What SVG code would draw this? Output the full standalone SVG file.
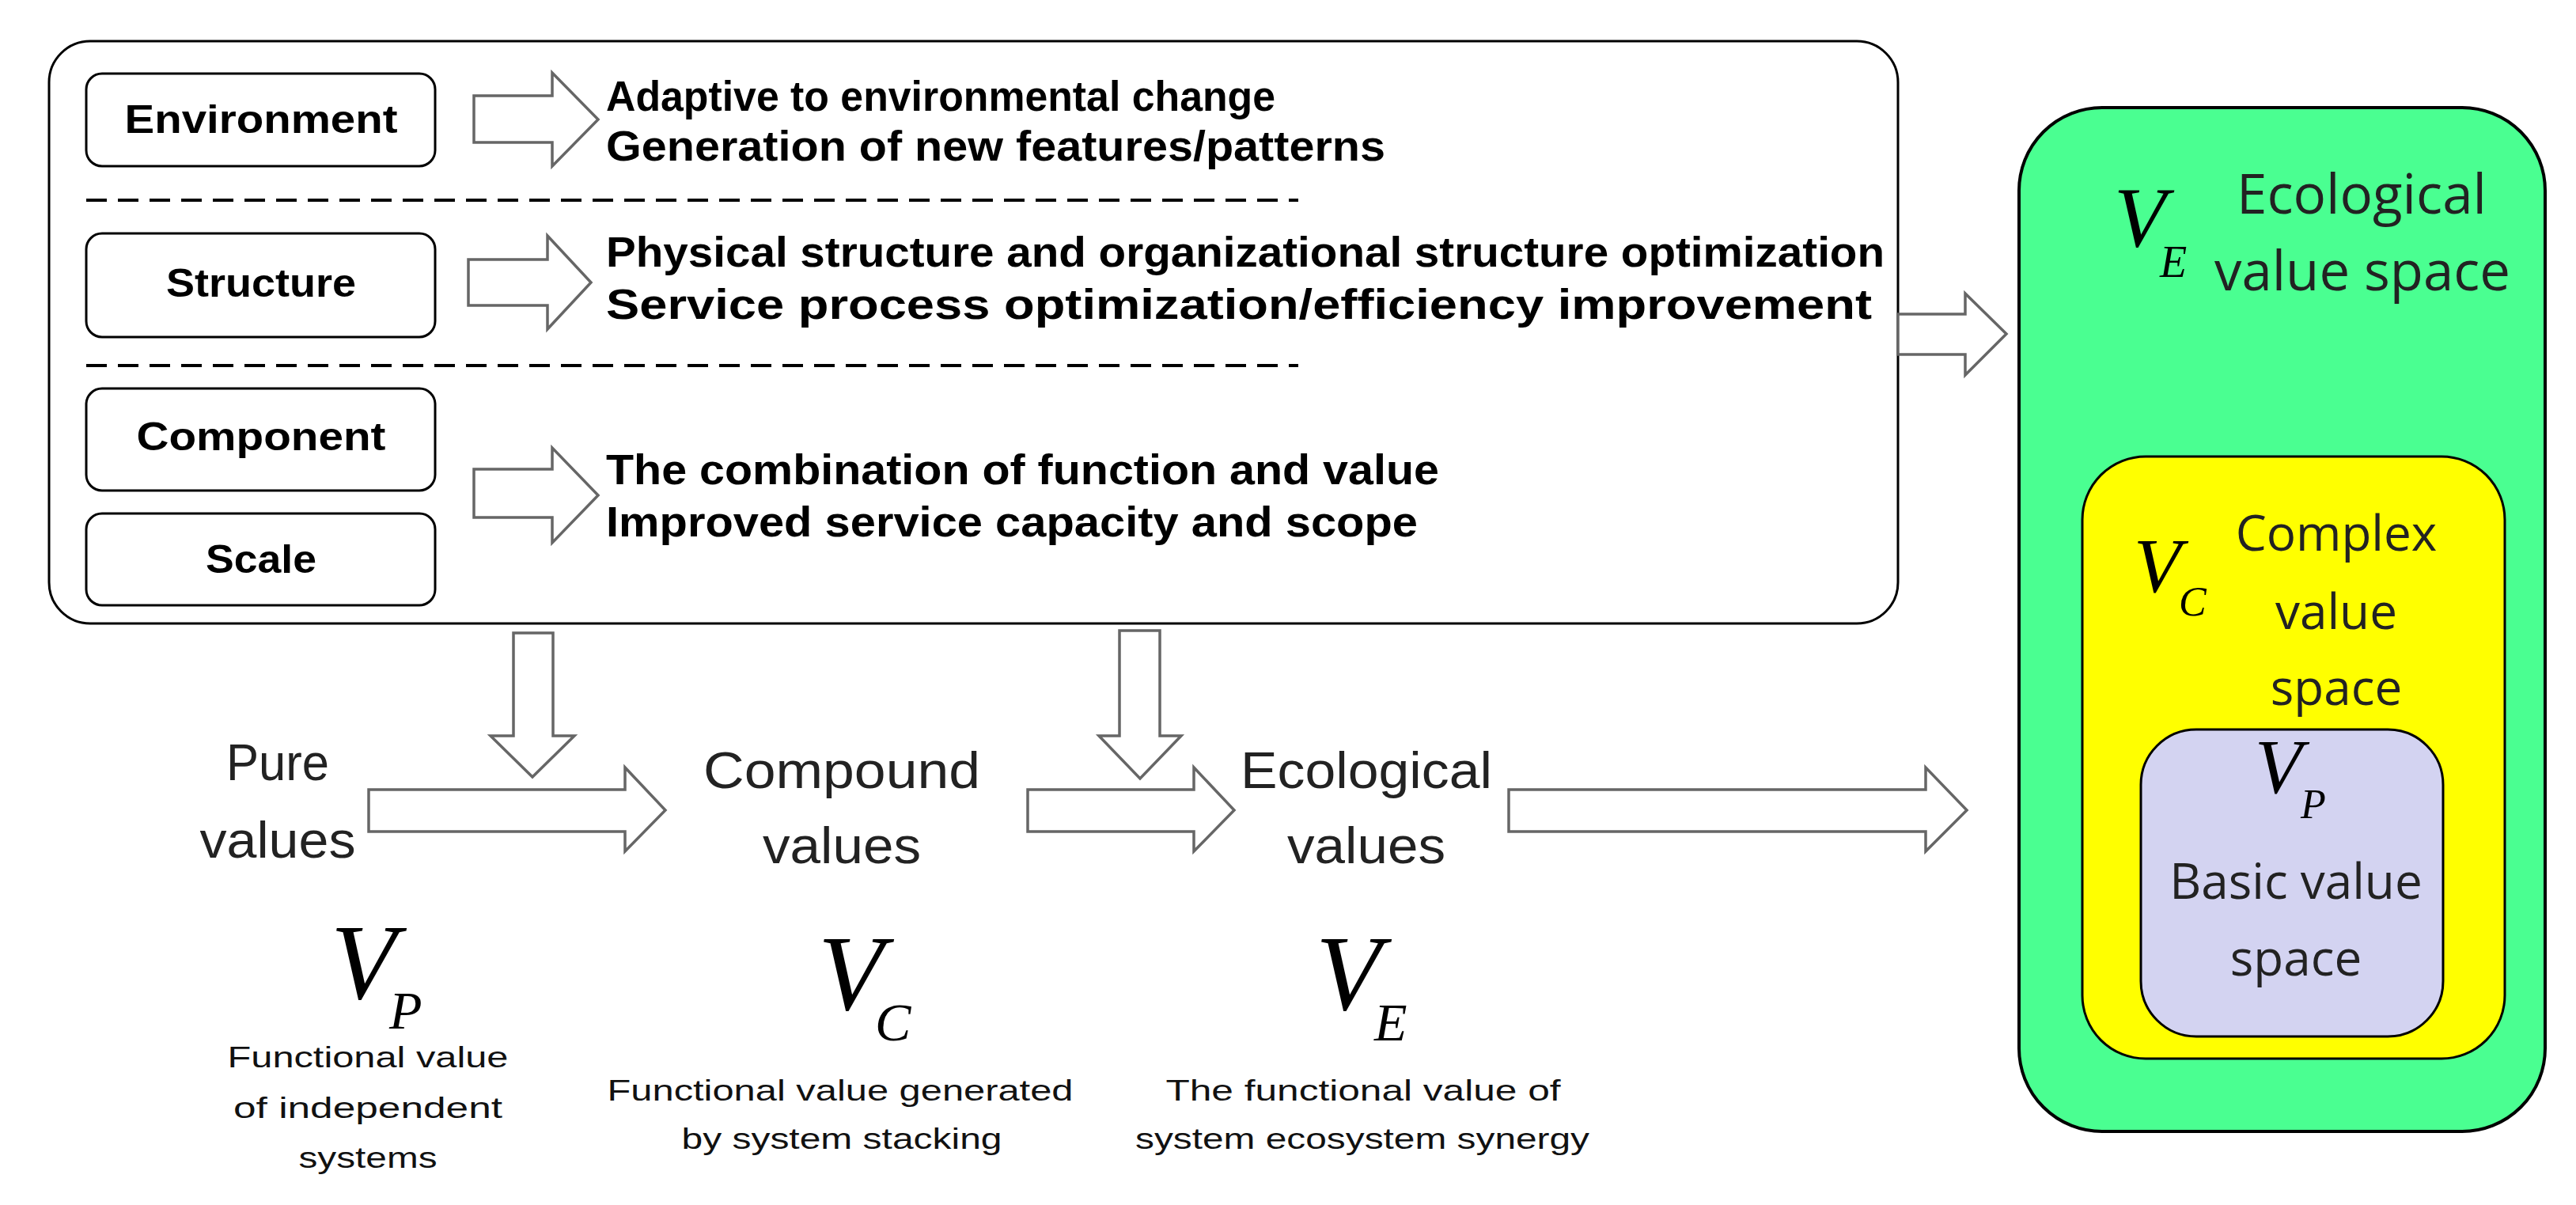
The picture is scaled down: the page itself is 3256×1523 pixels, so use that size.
<svg xmlns="http://www.w3.org/2000/svg" width="3256" height="1523" viewBox="0 0 3256 1523">
<style>
.box{fill:#fff;stroke:#000;stroke-width:3}
.lbl{font-family:"Liberation Sans",Arial,sans-serif;font-weight:bold;font-size:50px;fill:#000}
.bold{font-family:"Liberation Sans",Arial,sans-serif;font-weight:bold;font-size:54px;fill:#000}
.arr{fill:#fff;stroke:#666;stroke-width:3.5;stroke-linejoin:miter}
.lt{font-family:"Liberation Sans",Arial,sans-serif;font-size:64px;fill:#222;text-anchor:middle}
.cap{font-family:"Liberation Sans",Arial,sans-serif;font-size:36px;fill:#111;text-anchor:middle}
.mv{font-family:"Liberation Serif","Times New Roman",serif;font-style:italic;fill:#000}
.sp{font-family:"Open Sans","Liberation Sans",sans-serif;fill:#222;text-anchor:middle}
</style>
<g id="main-box">
<rect x="62" y="52" width="2337" height="736" rx="52" class="box"/>
<line x1="109" y1="253" x2="1641" y2="253" stroke="#000" stroke-width="4" stroke-dasharray="26,14"/>
<line x1="109" y1="462" x2="1641" y2="462" stroke="#000" stroke-width="4" stroke-dasharray="26,14"/>
</g>
<g id="environment"><rect x="109" y="93" width="441" height="117" rx="20" class="box"/><text x="330" y="168" class="lbl" text-anchor="middle" textLength="345" lengthAdjust="spacingAndGlyphs">Environment</text></g>
<g id="structure"><rect x="109" y="295" width="441" height="131" rx="20" class="box"/><text x="330" y="375" class="lbl" text-anchor="middle" textLength="240" lengthAdjust="spacingAndGlyphs">Structure</text></g>
<g id="component"><rect x="109" y="491" width="441" height="129" rx="20" class="box"/><text x="330" y="569" class="lbl" text-anchor="middle" textLength="315" lengthAdjust="spacingAndGlyphs">Component</text></g>
<g id="scale"><rect x="109" y="649" width="441" height="116" rx="20" class="box"/><text x="330" y="724" class="lbl" text-anchor="middle" textLength="140" lengthAdjust="spacingAndGlyphs">Scale</text></g>
<g id="texts">
<text x="766" y="140" class="bold" textLength="846" lengthAdjust="spacingAndGlyphs">Adaptive to environmental change</text>
<text x="766" y="203" class="bold" textLength="985" lengthAdjust="spacingAndGlyphs">Generation of new features/patterns</text>
<text x="766" y="337" class="bold" textLength="1616" lengthAdjust="spacingAndGlyphs">Physical structure and organizational structure optimization</text>
<text x="766" y="403" class="bold" textLength="1600" lengthAdjust="spacingAndGlyphs">Service process optimization/efficiency improvement</text>
<text x="766" y="612" class="bold" textLength="1053" lengthAdjust="spacingAndGlyphs">The combination of function and value</text>
<text x="766" y="678" class="bold" textLength="1026" lengthAdjust="spacingAndGlyphs">Improved service capacity and scope</text>
</g>
<g id="green-space">
<rect x="2552" y="136" width="665" height="1294" rx="105" fill="#4aff91" stroke="#000" stroke-width="4"/>
<text x="2672" y="311" class="mv" font-size="108">V</text><text x="2730" y="350" class="mv" font-size="56">E</text>
<text x="2985" y="270" class="sp" font-size="70" textLength="316" lengthAdjust="spacingAndGlyphs">Ecological</text>
<text x="2986" y="367" class="sp" font-size="70" textLength="374" lengthAdjust="spacingAndGlyphs">value space</text>
</g>
<g id="yellow-space">
<rect x="2632" y="577" width="534" height="761" rx="80" fill="#ffff00" stroke="#000" stroke-width="3"/>
<text x="2697" y="748" class="mv" font-size="98">V</text><text x="2754" y="778" class="mv" font-size="52">C</text>
<text x="2953" y="696" class="sp" font-size="62">Complex</text>
<text x="2953" y="795" class="sp" font-size="62">value</text>
<text x="2953" y="891" class="sp" font-size="62">space</text>
</g>
<g id="basic-space">
<rect x="2706" y="922" width="382" height="388" rx="70" fill="#d3d3f1" stroke="#000" stroke-width="3"/>
<text x="2850" y="1002" class="mv" font-size="98">V</text><text x="2908" y="1034" class="mv" font-size="52">P</text>
<text x="2902" y="1136" class="sp" font-size="62">Basic value</text>
<text x="2902" y="1233" class="sp" font-size="62">space</text>
</g>
<g id="connectors">
<polygon class="arr" points="599,121 698,121 698,92 756,151 698,210 698,180 599,180"/>
<polygon class="arr" points="592,328 692,328 692,298 747,357 692,416 692,386 592,386"/>
<polygon class="arr" points="599,593 698,593 698,566 756,626 698,686 698,654 599,654"/>
<polygon class="arr" points="2399,397 2484,397 2484,371 2536,422 2484,474 2484,448 2399,448"/>
<polygon class="arr" points="649,800 699,800 699,930 726,930 673,982 620,930 649,930"/>
<polygon class="arr" points="1415,797 1466,797 1466,930 1493,930 1441,984 1389,930 1415,930"/>
<polygon class="arr" points="466,998 790,998 790,970 841,1024 790,1076 790,1051 466,1051"/>
<polygon class="arr" points="1299,998 1509,998 1509,970 1560,1024 1509,1076 1509,1051 1299,1051"/>
<polygon class="arr" points="1907,998 2434,998 2434,970 2486,1024 2434,1076 2434,1051 1907,1051"/>
</g>
<g id="pure">
<text x="351" y="986" class="lt" textLength="130" lengthAdjust="spacingAndGlyphs">Pure</text>
<text x="351" y="1084" class="lt" textLength="197" lengthAdjust="spacingAndGlyphs">values</text>
<text x="418" y="1262" class="mv" font-size="136">V</text><text x="492" y="1300" class="mv" font-size="68">P</text>
<text x="465" y="1349" class="cap" textLength="355" lengthAdjust="spacingAndGlyphs">Functional value</text>
<text x="465" y="1413" class="cap" textLength="340" lengthAdjust="spacingAndGlyphs">of independent</text>
<text x="465" y="1476" class="cap" textLength="175" lengthAdjust="spacingAndGlyphs">systems</text>
</g>
<g id="compound">
<text x="1064" y="996" class="lt" textLength="350" lengthAdjust="spacingAndGlyphs">Compound</text>
<text x="1064" y="1091" class="lt" textLength="200" lengthAdjust="spacingAndGlyphs">values</text>
<text x="1034" y="1276" class="mv" font-size="136">V</text><text x="1106" y="1315" class="mv" font-size="68">C</text>
<text x="1062" y="1391" class="cap" textLength="589" lengthAdjust="spacingAndGlyphs">Functional value generated</text>
<text x="1064" y="1452" class="cap" textLength="405" lengthAdjust="spacingAndGlyphs">by system stacking</text>
</g>
<g id="ecological">
<text x="1727" y="996" class="lt" textLength="318" lengthAdjust="spacingAndGlyphs">Ecological</text>
<text x="1727" y="1091" class="lt" textLength="200" lengthAdjust="spacingAndGlyphs">values</text>
<text x="1663" y="1276" class="mv" font-size="136">V</text><text x="1737" y="1315" class="mv" font-size="68">E</text>
<text x="1723" y="1391" class="cap" textLength="499" lengthAdjust="spacingAndGlyphs">The functional value of</text>
<text x="1722" y="1452" class="cap" textLength="574" lengthAdjust="spacingAndGlyphs">system ecosystem synergy</text>
</g>
</svg>
